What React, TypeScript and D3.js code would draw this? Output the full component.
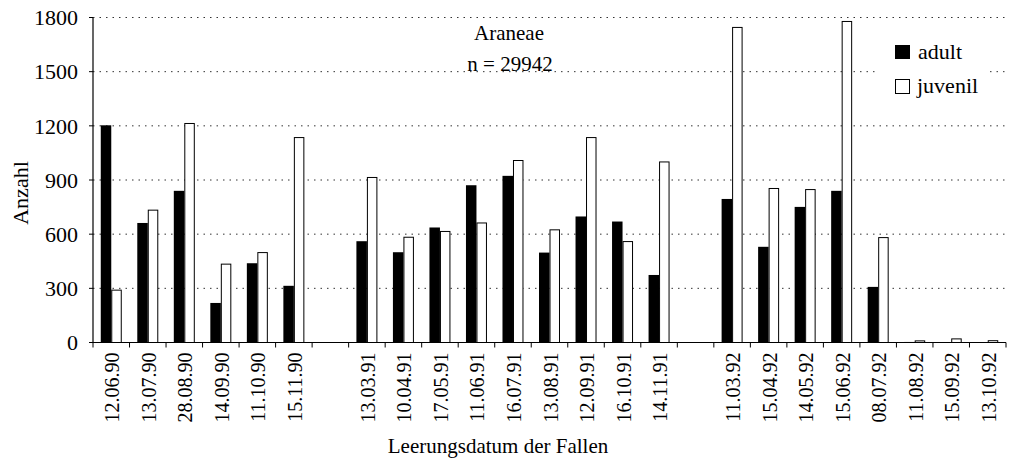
import React from 'react';
import * as d3 from 'd3';

// sampling dates, '' marks the empty slot between years
const dates = [
  '12.06.90', '13.07.90', '28.08.90', '14.09.90', '11.10.90', '15.11.90',
  '',
  '13.03.91', '10.04.91', '17.05.91', '11.06.91', '16.07.91', '13.08.91', '12.09.91', '16.10.91', '14.11.91',
  '',
  '11.03.92', '15.04.92', '14.05.92', '15.06.92', '08.07.92', '11.08.92', '15.09.92', '13.10.92',
];
const adult = [
  1203, 662, 840, 219, 439, 314,
  null,
  561, 500, 637, 871, 923, 498, 698, 670, 374,
  null,
  795, 530, 751, 840, 308, 3, 0, 2,
];
const juvenil = [
  290, 733, 1213, 434, 498, 1135,
  null,
  914, 583, 615, 662, 1008, 624, 1135, 559, 1000,
  null,
  1745, 853, 847, 1778, 581, 9, 20, 10,
];
const yTicks = [0, 300, 600, 900, 1200, 1500, 1800];
const seriesNames = ['adult', 'juvenil'];

const W = 1012;
const H = 460;
const font = "'Liberation Serif', 'DejaVu Serif', 'Times New Roman', serif";

export default function App() {
  const left = 93;
  const right = 1006;
  const top = 17.5;
  const bottom = 342.5;

  const x = d3.scaleBand<number>().domain(d3.range(dates.length)).range([left, right]).padding(0);
  const inner = d3.scaleBand<string>().domain(seriesNames).range([0, x.bandwidth()]).paddingInner(0).paddingOuter(0.74);
  const y = d3.scaleLinear().domain([0, 1800]).range([bottom, top]);

  const boundaries = d3.range(dates.length + 1).map(i => left + i * x.step());

  return (
    <svg width={W} height={H} style={{ position: 'absolute', left: 0, top: 0, background: '#fff', fontFamily: font }}>
      {/* grid */}
      {yTicks.filter(t => t > 0).map(t => (
        <line key={t} x1={left} x2={right} y1={y(t)} y2={y(t)} stroke="#333" strokeWidth={1} strokeDasharray="1.5,5" />
      ))}

      {/* bars */}
      {dates.map((d, i) => {
        const a = adult[i];
        const j = juvenil[i];
        if (a == null || j == null) return null;
        const x0 = x(i)!;
        return (
          <g key={i}>
            <rect x={x0 + inner('adult')!} y={y(a)} width={inner.bandwidth()} height={bottom - y(a)} fill="#000" />
            <rect x={x0 + inner('juvenil')! + 0.5} y={y(j)} width={inner.bandwidth() - 1} height={bottom - y(j)} fill="#fff" stroke="#000" strokeWidth={1} />
          </g>
        );
      })}

      {/* axes */}
      <line x1={left} x2={left} y1={top} y2={bottom} stroke="#000" strokeWidth={1.2} />
      <line x1={left} x2={right} y1={bottom} y2={bottom} stroke="#000" strokeWidth={1.2} />
      {yTicks.map(t => (
        <g key={t}>
          <line x1={left - 4} x2={left} y1={y(t)} y2={y(t)} stroke="#000" />
          <text x={78} y={y(t)} dy="0.35em" textAnchor="end" fontSize={22}>{t}</text>
        </g>
      ))}
      {boundaries.map((bx, i) => (
        <line key={i} x1={bx} x2={bx} y1={bottom} y2={bottom + 5} stroke="#000" />
      ))}
      {dates.map((d, i) => (
        <text key={i} transform={`translate(${x(i)! + x.bandwidth() / 2 + 1},${bottom + 10}) rotate(-90)`}
          textAnchor="end" dy="0.35em" fontSize={20}>{d}</text>
      ))}

      {/* titles */}
      <text x={20} y={193} transform="rotate(-90,20,193)" textAnchor="middle" dy="0.35em" fontSize={22}>Anzahl</text>
      <text x={498} y={453} textAnchor="middle" fontSize={21}>Leerungsdatum der Fallen</text>
      <text x={509} y={40} textAnchor="middle" fontSize={21}>Araneae</text>
      <text x={510} y={71} textAnchor="middle" fontSize={21}>n = 29942</text>

      {/* legend */}
      <rect x={878} y={38} width={110} height={62} fill="#fff" />
      <rect x={895} y={45} width={15} height={14} fill="#000" />
      <text x={918} y={59} fontSize={22}>adult</text>
      <rect x={895.5} y={79.5} width={14} height={14} fill="#fff" stroke="#000" />
      <text x={917} y={93} fontSize={22}>juvenil</text>
    </svg>
  );
}
